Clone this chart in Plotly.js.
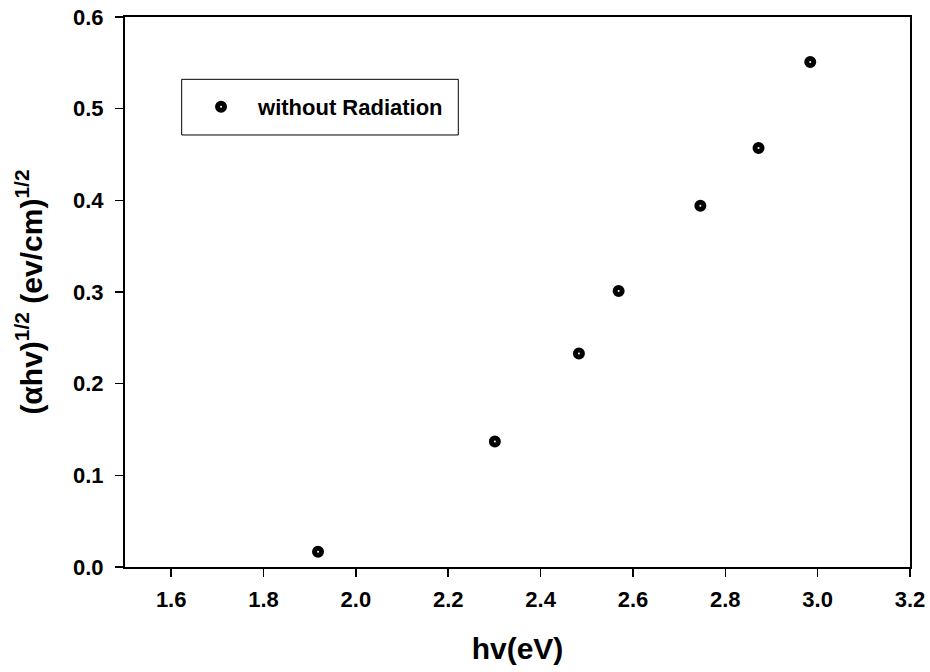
<!DOCTYPE html>
<html>
<head>
<meta charset="utf-8">
<script src="https://cdn.plot.ly/plotly-3.0.1.min.js"></script>
<style>html,body{margin:0;padding:0;background:#fff;}#chart{width:930px;height:672px;}</style>
</head>
<body>
<div id="chart"></div>
<script>
// Data
const seriesName = "without Radiation";
const photonEnergy = [1.918, 2.301, 2.483, 2.569, 2.746, 2.872, 2.984];
const absorption = [0.0167, 0.137, 0.233, 0.301, 0.394, 0.457, 0.551];
const xTickValues = [1.6, 1.8, 2.0, 2.2, 2.4, 2.6, 2.8, 3.0, 3.2];
const yTickValues = [0.0, 0.1, 0.2, 0.3, 0.4, 0.5, 0.6];

const FONT = "Liberation Sans, Arial, sans-serif";

const trace = {
  x: photonEnergy,
  y: absorption,
  mode: "markers",
  type: "scatter",
  name: seriesName,
  marker: {symbol: "circle", size: 7, color: "#ffffff", line: {color: "#000000", width: 5}}
};

const layout = {
  width: 930, height: 672,
  margin: {l: 125, r: 20, t: 17, b: 105},
  paper_bgcolor: "#ffffff", plot_bgcolor: "#ffffff",
  font: {family: FONT, color: "#000", size: 22, weight: "bold"},
  showlegend: true,
  legend: {
    x: 0.0752, y: 0.8745, xanchor: "left", yanchor: "top",
    borderwidth: 0, bgcolor: "rgba(0,0,0,0)",
    itemwidth: 64,
    font: {family: FONT, size: 22, weight: "bold", color: "#000"}
  },
  shapes: [{
    type: "rect", xref: "paper", yref: "paper",
    x0: 0.0722, x1: 0.4246, y0: 0.7855, y1: 0.8867,
    line: {color: "#000", width: 1}, fillcolor: "rgba(0,0,0,0)"
  }],
  xaxis: {
    range: [1.5, 3.2], tickvals: xTickValues, tickformat: ".1f",
    showgrid: false, zeroline: false,
    showline: true, linecolor: "#000", linewidth: 2, mirror: true,
    ticks: "outside", ticklen: 8, tickwidth: 1.5, tickcolor: "#000",
    ticklabelstandoff: 4,
    tickfont: {family: FONT, size: 22, weight: "bold"},
    title: {text: "hv(eV)", font: {family: FONT, size: 30, weight: "bold"}, standoff: 27}
  },
  yaxis: {
    range: [0, 0.6], tickvals: yTickValues, tickformat: ".1f",
    showgrid: false, zeroline: false,
    showline: true, linecolor: "#000", linewidth: 2, mirror: true,
    ticks: "outside", ticklen: 8, tickwidth: 1.5, tickcolor: "#000",
    ticklabelstandoff: 7,
    tickfont: {family: FONT, size: 22, weight: "bold"},
    title: {text: "(αhv)<sup>1/2</sup> (ev/cm)<sup>1/2</sup>", font: {family: FONT, size: 30, weight: "bold"}, standoff: 22}
  }
};

Plotly.newPlot("chart", [trace], layout, {displayModeBar: false, staticPlot: true});
</script>
</body>
</html>
